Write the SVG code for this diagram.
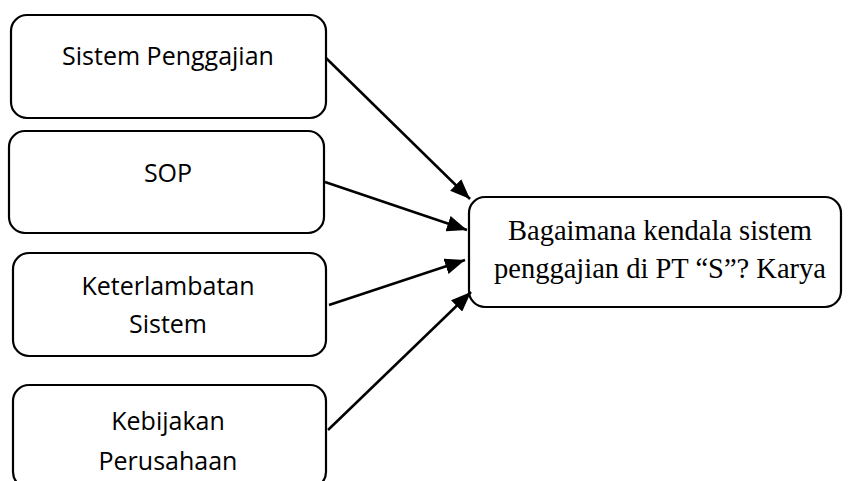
<svg xmlns="http://www.w3.org/2000/svg" width="856" height="481" viewBox="0 0 856 481">
<defs>
<style>
.box{fill:#fff;stroke:#000;stroke-width:2.2}
.lbl{font-family:"Open Sans","Liberation Sans",sans-serif;font-size:25px;fill:#000;text-anchor:middle}
.tgt{font-family:"Liberation Serif","Times New Roman",serif;font-size:28.5px;fill:#000;text-anchor:middle}
.con{stroke:#000;stroke-width:2.5;fill:none;marker-end:url(#ah)}
</style>
<marker id="ah" viewBox="0 0 20 16" refX="20" refY="8" markerWidth="20" markerHeight="16" markerUnits="userSpaceOnUse" orient="auto">
<path d="M0,0 L20,8 L0,16 z" fill="#000"/>
</marker>
</defs>
<g id="n1"><rect class="box" x="11" y="15" width="315" height="103" rx="16"/><text class="lbl" x="168" y="65">Sistem Penggajian</text></g>
<g id="n2"><rect class="box" x="9" y="131" width="315" height="102" rx="16"/><text class="lbl" x="168" y="182">SOP</text></g>
<g id="n3"><rect class="box" x="13" y="253" width="313" height="103" rx="16"/><text class="lbl" x="168" y="295">Keterlambatan</text><text class="lbl" x="168" y="333">Sistem</text></g>
<g id="n4"><rect class="box" x="13" y="385" width="313" height="103" rx="16"/><text class="lbl" x="168" y="430">Kebijakan</text><text class="lbl" x="168" y="470">Perusahaan</text></g>
<g id="n5"><rect class="box" x="469" y="197" width="372" height="110" rx="16"/><text class="tgt" x="660" y="240">Bagaimana kendala sistem</text><text class="tgt" x="660" y="278">penggajian di PT “S”? Karya</text></g>
<g id="connectors">
<line class="con" x1="326" y1="58" x2="470" y2="199"/>
<line class="con" x1="325" y1="182" x2="467" y2="230"/>
<line class="con" x1="329" y1="305" x2="465" y2="260"/>
<line class="con" x1="328" y1="430" x2="471" y2="292"/>
</g>
</svg>
